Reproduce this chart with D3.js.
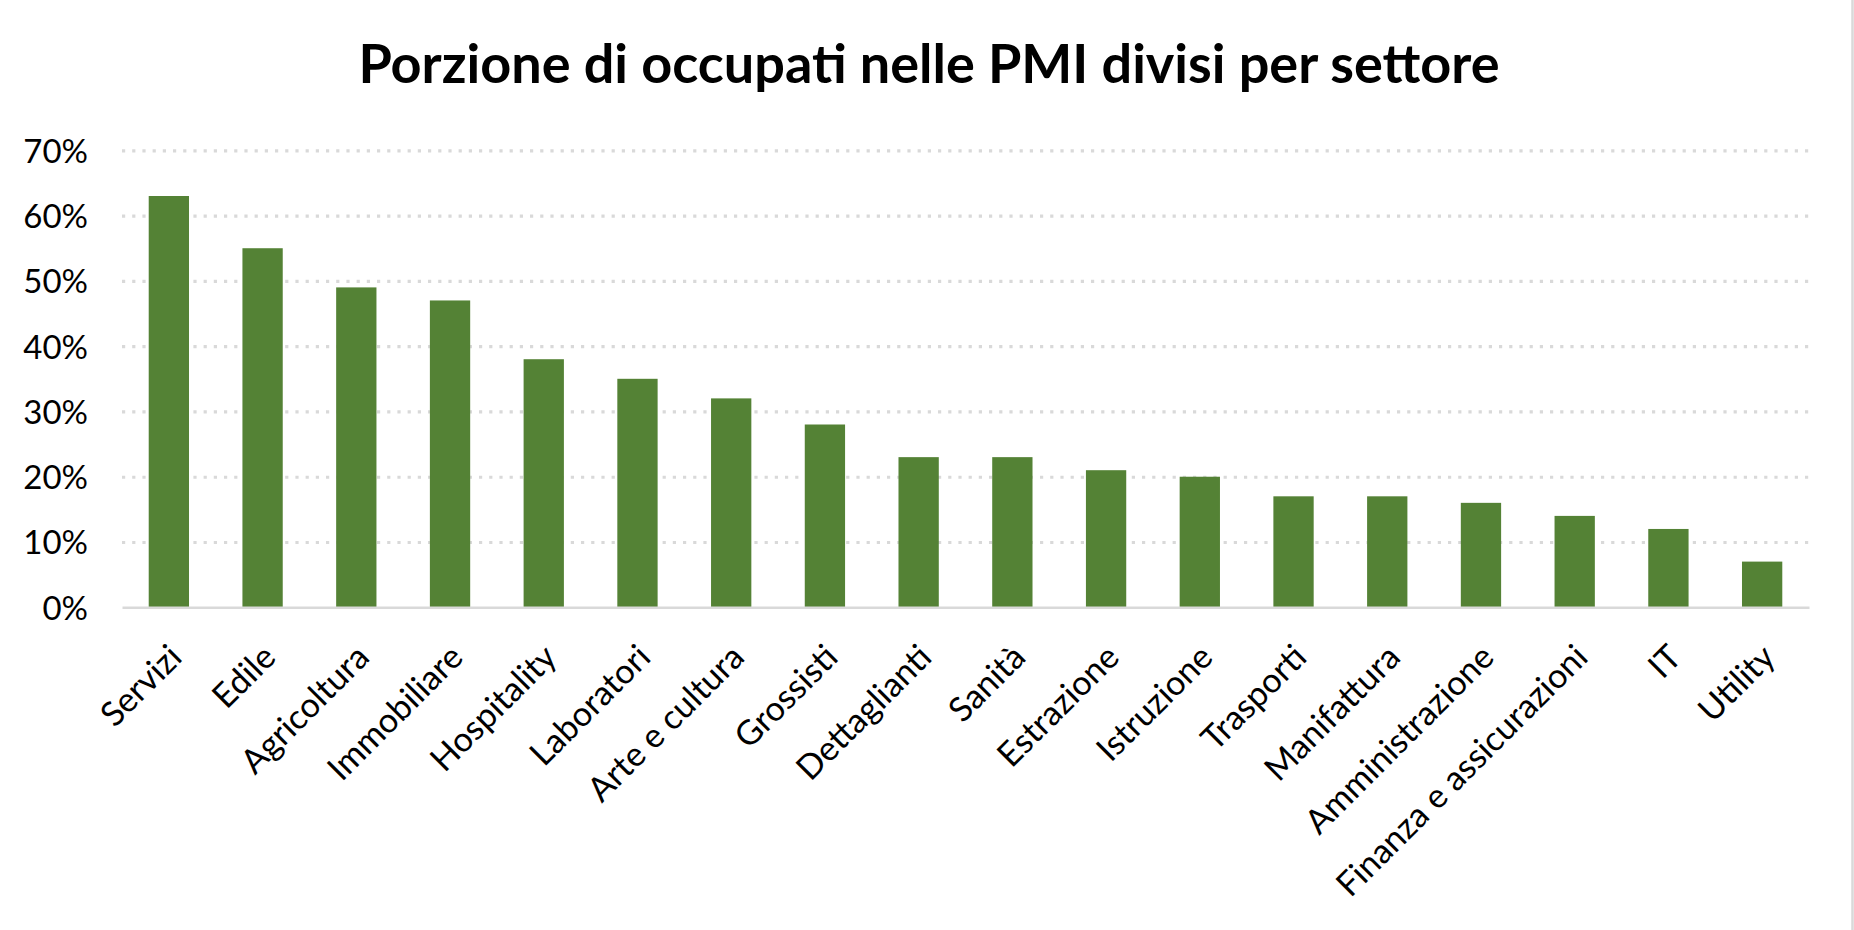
<!DOCTYPE html>
<html>
<head>
<meta charset="utf-8">
<script src="https://cdn.jsdelivr.net/npm/d3@7"></script>
<style>
  html, body { margin: 0; padding: 0; background: #ffffff; }
  svg { display: block; }
</style>
</head>
<body>
<svg id="chart" width="1854" height="930"></svg>
<script>
// ---- data ----
const categories = ["Servizi", "Edile", "Agricoltura", "Immobiliare", "Hospitality", "Laboratori",
  "Arte e cultura", "Grossisti", "Dettaglianti", "Sanità", "Estrazione", "Istruzione",
  "Trasporti", "Manifattura", "Amministrazione", "Finanza e assicurazioni", "IT", "Utility"];
const values = [0.63, 0.55, 0.49, 0.47, 0.38, 0.35, 0.32, 0.28, 0.23, 0.23, 0.21, 0.20,
  0.17, 0.17, 0.16, 0.14, 0.12, 0.07];
const yTicks = [0, 0.1, 0.2, 0.3, 0.4, 0.5, 0.6, 0.7];
const title = "Porzione di occupati nelle PMI divisi per settore";

// ---- layout ----
const W = 1854, H = 930;
const plot = { left: 122, right: 1809, top: 150.3, bottom: 607.3 };
const fontFamily = "Lato, 'Open Sans', sans-serif";

const svg = d3.select("#chart");
svg.append("rect").attr("width", W).attr("height", H).attr("fill", "#ffffff");

const x = d3.scaleBand()
  .domain(categories)
  .range([plot.left, plot.right])
  .paddingInner(0.57)
  .paddingOuter(0.285);

const y = d3.scaleLinear()
  .domain([0, 0.7])
  .range([plot.bottom, plot.top]);

// title
svg.append("text")
  .attr("x", 929)
  .attr("y", 83)
  .attr("text-anchor", "middle")
  .attr("font-family", fontFamily)
  .attr("font-weight", "bold")
  .attr("font-size", 54)
  .attr("fill", "#000000")
  .text(title);

// gridlines
const yAxisGrid = d3.axisLeft(y)
  .tickValues(yTicks.filter(t => t > 0))
  .tickSize(-(plot.right - plot.left))
  .tickFormat("");
const gGrid = svg.append("g")
  .attr("transform", `translate(${plot.left},0)`)
  .call(yAxisGrid);
gGrid.select(".domain").remove();
gGrid.selectAll(".tick line")
  .attr("stroke", "#D9D9D9")
  .attr("stroke-width", 3.2)
  .attr("stroke-dasharray", "3.2,7");

// y tick labels
const yAxis = d3.axisLeft(y)
  .tickValues(yTicks)
  .tickSize(0)
  .tickPadding(0)
  .tickFormat(d3.format(".0%"));
const gY = svg.append("g")
  .attr("transform", `translate(88,0)`)
  .call(yAxis);
gY.select(".domain").remove();
gY.selectAll(".tick text")
  .attr("font-family", fontFamily)
  .attr("font-size", 33)
  .attr("fill", "#000000")
  .attr("dy", "0.36em");

// bars
svg.append("g")
  .selectAll("rect")
  .data(categories)
  .join("rect")
  .attr("x", d => x(d))
  .attr("width", x.bandwidth())
  .attr("y", (d, i) => y(values[i]))
  .attr("height", (d, i) => y(0) - y(values[i]))
  .attr("fill", "#548235");

// x axis line + labels
const xAxis = d3.axisBottom(x).tickSize(0).tickPadding(0);
const gX = svg.append("g")
  .attr("transform", `translate(0,${plot.bottom})`)
  .call(xAxis);
gX.select(".domain")
  .attr("stroke", "#D9D9D9")
  .attr("stroke-width", 2.4);
gX.selectAll(".tick text")
  .attr("font-family", fontFamily)
  .attr("font-size", 34)
  .attr("fill", "#000000")
  .attr("text-anchor", "end")
  .attr("y", 0)
  .attr("dy", 0)
  .attr("transform", "translate(15,52) rotate(-45)");

// right border of chart area
svg.append("line")
  .attr("x1", 1852.5).attr("x2", 1852.5)
  .attr("y1", 0).attr("y2", H)
  .attr("stroke", "#D9D9D9")
  .attr("stroke-width", 2.5);
</script>
</body>
</html>
